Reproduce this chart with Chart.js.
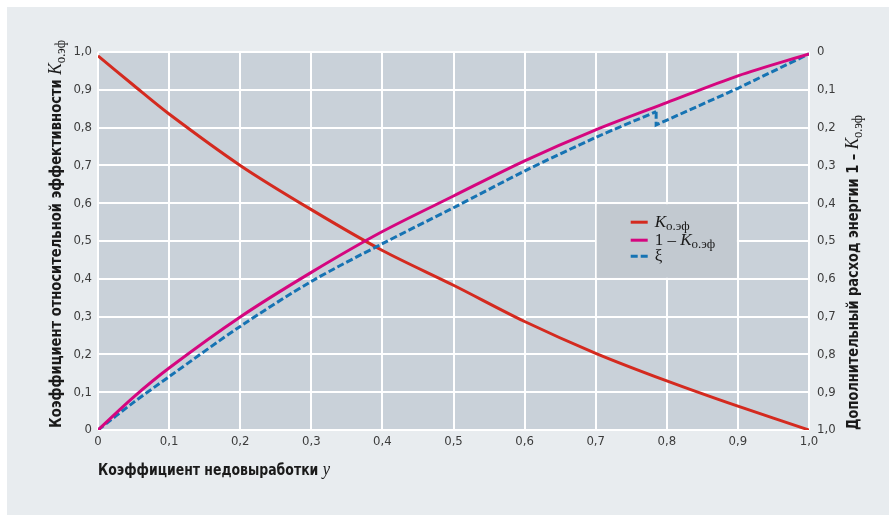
<!DOCTYPE html>
<html>
<head>
<meta charset="utf-8">
<script src="https://cdn.jsdelivr.net/npm/chart.js@4.4.1/dist/chart.umd.min.js"></script>
<style>
html, body { margin: 0; padding: 0; background: #fff; }
#wrap { position: absolute; left: 7px; top: 7px; width: 882px; height: 508px; background: #e8ecef; }
</style>
</head>
<body>
<div id="wrap"><canvas id="chart" width="882" height="508"></canvas></div>
<script>
// коэффициент недовыработки y (ось X)
const xCoef = [0, 0.05, 0.1, 0.2, 0.3, 0.4, 0.5, 0.6, 0.7, 0.8, 0.9, 1.0];
// K о.эф
const kEff = [0.99, 0.912, 0.836, 0.70, 0.583, 0.475, 0.383, 0.287, 0.203, 0.13, 0.063, 0.0];
// 1 - K о.эф
const addEnergy = [0, 0.087, 0.164, 0.299, 0.417, 0.525, 0.619, 0.712, 0.794, 0.866, 0.937, 0.995];
// ξ (со скачком около 0,785)
const xiX = [0, 0.05, 0.1, 0.2, 0.3, 0.4, 0.5, 0.6, 0.7, 0.785, 0.785, 0.9, 1.0];
const xi = [0, 0.073, 0.141, 0.274, 0.393, 0.493, 0.588, 0.685, 0.774, 0.842, 0.807, 0.904, 0.995];
const xiStep = 9; // индекс верхней точки скачка

const tickLabels = ['0', '0,1', '0,2', '0,3', '0,4', '0,5', '0,6', '0,7', '0,8', '0,9', '1,0'];

const RED = '#d42a1f', MAGENTA = '#d5067f', BLUE = '#1673b3';
const SANS = "'DejaVu Sans Condensed', 'Liberation Sans Narrow', 'DejaVu Sans', sans-serif";
const SERIF = "'Liberation Serif', 'DejaVu Serif', serif";

const pts = (xs, ys) => xs.map((x, i) => ({x, y: ys[i]}));
const tickCb = v => tickLabels[Math.round(v * 10)];

// текст из нескольких кусков разными шрифтами, сжатый до нужной длины
function drawRuns(ctx, runs, targetWidth) {
    let w = 0;
    runs.forEach(r => { ctx.font = r.font; r.w = ctx.measureText(r.text).width; w += r.w; });
    const sx = targetWidth ? targetWidth / w : 1;
    ctx.save();
    ctx.scale(sx, 1);
    let cx = 0;
    runs.forEach(r => { ctx.font = r.font; ctx.fillText(r.text, cx, r.dy || 0); cx += r.w; });
    ctx.restore();
}

const plotBg = {
    id: 'plotBg',
    beforeDraw(chart) {
        const {ctx, chartArea: a} = chart;
        ctx.save();
        ctx.fillStyle = '#c9d1d9';
        ctx.fillRect(a.left, a.top, a.right - a.left, a.bottom - a.top);
        ctx.restore();
    }
};

const titlesAndLegend = {
    id: 'titlesAndLegend',
    afterDraw(chart) {
        const ctx = chart.ctx;
        const xs = chart.scales.x, ys = chart.scales.y;
        ctx.save();
        ctx.fillStyle = '#1a1a1a';
        ctx.textBaseline = 'alphabetic';

        // подпись оси X
        ctx.save();
        ctx.translate(91, 468);
        drawRuns(ctx, [
            {text: 'Коэффициент недовыработки ', font: 'bold 16px ' + SANS},
            {text: 'y', font: 'italic 19px ' + SERIF}
        ], 232);
        ctx.restore();

        // левая ось
        ctx.save();
        ctx.translate(54, 421);
        ctx.rotate(-Math.PI / 2);
        drawRuns(ctx, [
            {text: 'Коэффициент относительной эффективности ', font: 'bold 16px ' + SANS},
            {text: 'K', font: 'italic 19px ' + SERIF},
            {text: 'о.эф', font: '14px ' + SERIF, dy: 4}
        ], 388);
        ctx.restore();

        // правая ось
        ctx.save();
        ctx.translate(851, 423);
        ctx.rotate(-Math.PI / 2);
        drawRuns(ctx, [
            {text: 'Дополнительный расход энергии 1 – ', font: 'bold 16px ' + SANS},
            {text: 'K', font: 'italic 19px ' + SERIF},
            {text: 'о.эф', font: '14px ' + SERIF, dy: 4}
        ], 315);
        ctx.restore();

        // легенда
        const bx = xs.getPixelForValue(0.7) + 1, bx2 = xs.getPixelForValue(0.9) - 1;
        const by = ys.getPixelForValue(0.6) + 1, by2 = ys.getPixelForValue(0.4) - 1;
        ctx.fillStyle = '#c2c9d0';
        ctx.fillRect(bx, by, bx2 - bx, by2 - by);
        const items = [
            {color: RED, dash: [], dy: 18, runs: [
                {text: 'K', font: 'italic 17px ' + SERIF},
                {text: 'о.эф', font: '13px ' + SERIF, dy: 3}]},
            {color: MAGENTA, dash: [], dy: 36, runs: [
                {text: '1 – ', font: '17px ' + SERIF},
                {text: 'K', font: 'italic 17px ' + SERIF},
                {text: 'о.эф', font: '13px ' + SERIF, dy: 3}]},
            {color: BLUE, dash: [7, 3], dy: 52, runs: [
                {text: 'ξ', font: '17px ' + SERIF}]}
        ];
        items.forEach(it => {
            ctx.save();
            ctx.strokeStyle = it.color;
            ctx.lineWidth = 3;
            ctx.setLineDash(it.dash);
            ctx.beginPath();
            ctx.moveTo(bx + 34, by + it.dy);
            ctx.lineTo(bx + 51, by + it.dy);
            ctx.stroke();
            ctx.restore();
            ctx.save();
            ctx.fillStyle = '#1a1a1a';
            ctx.translate(bx + 58, by + it.dy + 5);
            drawRuns(ctx, it.runs);
            ctx.restore();
        });
        ctx.restore();
    }
};

const lineDs = (data, color, extra) => Object.assign({
    data, borderColor: color, borderWidth: 3, pointRadius: 0,
    tension: 0.3, fill: false, yAxisID: 'y', borderCapStyle: 'butt'
}, extra);

new Chart(document.getElementById('chart'), {
    type: 'line',
    data: {
        datasets: [
            lineDs(pts(xCoef, addEnergy), MAGENTA),
            lineDs(pts(xiX.slice(0, xiStep + 1), xi.slice(0, xiStep + 1)), BLUE, {borderDash: [7, 3]}),
            lineDs(pts(xiX.slice(xiStep), xi.slice(xiStep)), BLUE, {borderDash: [7, 3], tension: 0}),
            lineDs(pts(xCoef, kEff), RED)
        ]
    },
    options: {
        responsive: false,
        animation: false,
        layout: {padding: {top: 45, left: 0, right: 0, bottom: 0}},
        plugins: {legend: {display: false}, tooltip: {enabled: false}},
        scales: {
            x: {
                type: 'linear', min: 0, max: 1,
                ticks: {stepSize: 0.1, callback: tickCb, padding: 4, color: '#3c3c3c',
                        font: {family: SANS, size: 13}, maxRotation: 0},
                grid: {color: '#ffffff', lineWidth: 2, drawTicks: false},
                border: {display: false},
                afterFit: s => { s.height = 85; }
            },
            y: {
                position: 'left', min: 0, max: 1,
                ticks: {stepSize: 0.1, callback: tickCb, padding: 6, color: '#3c3c3c',
                        font: {family: SANS, size: 13}},
                grid: {color: '#ffffff', lineWidth: 2, drawTicks: false},
                border: {display: false},
                afterFit: s => { s.width = 91; }
            },
            y2: {
                position: 'right', min: 0, max: 1, reverse: true,
                ticks: {stepSize: 0.1, callback: tickCb, padding: 8, color: '#3c3c3c',
                        font: {family: SANS, size: 13}},
                grid: {display: false, drawTicks: false},
                border: {display: false},
                afterFit: s => { s.width = 80; }
            }
        }
    },
    plugins: [plotBg, titlesAndLegend]
});
</script>
</body>
</html>
